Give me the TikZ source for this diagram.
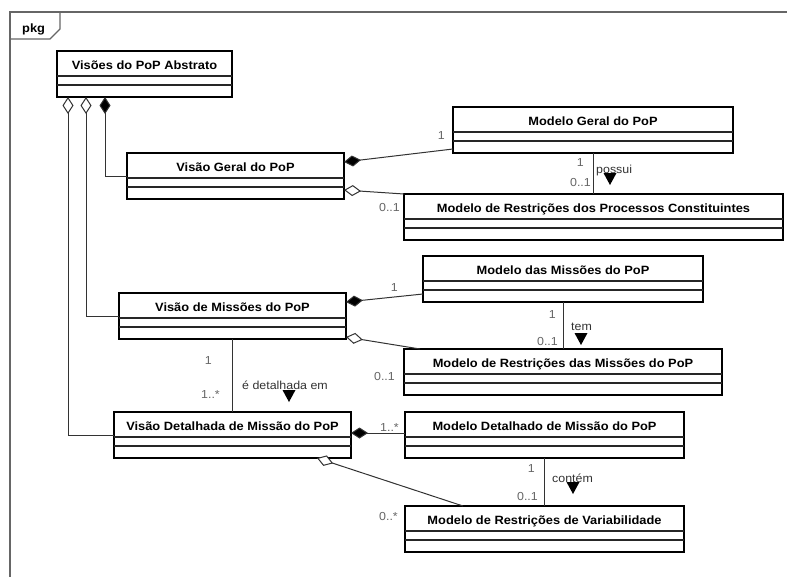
\documentclass[tikz,border=0pt]{standalone}
\usepackage{fontspec}
\setmainfont{Liberation Sans}
\newfontfamily\umlfont[FakeStretch=1.07]{Liberation Sans}
\usetikzlibrary{arrows.meta,calc}

\tikzset{
  clsbox/.style={draw=black, line width=2.4pt, fill=white, inner sep=0pt, outer sep=0pt,
                 minimum height=46pt, anchor=north west},
  sepline/.style={draw=black!85, line width=1.1pt},
  clsname/.style={font=\umlfont\bfseries\fontsize{12}{14}\selectfont, inner sep=0pt, anchor=base},
  mult/.style={font=\umlfont\fontsize{11.6}{13}\selectfont, text=black!60, inner sep=0pt, anchor=base east},
  assoclbl/.style={font=\umlfont\fontsize{11.6}{13}\selectfont, text=black!80, inner sep=0pt, anchor=base west},
  conn/.style={draw=black!80, line width=1pt},
  comp/.style={conn, {Diamond[fill=black, length=17pt, width=11pt]}-},
  aggr/.style={conn, {Diamond[open, fill=white, length=17pt, width=11pt]}-},
  framec/.style={draw=black!60, line width=1.3pt},
}

% class box with name compartment and two empty compartments
\newcommand\umlclass[5]{%
  \node[clsbox, minimum width=#4] (#1) at (#2,#3) {};
  \node[clsname] (#1-name) at ($(#1.north)+(0,18.5)$) {#5};
  \draw[sepline] ($(#1.north west)+(0,25)$) -- ($(#1.north east)+(0,25)$);
  \draw[sepline] ($(#1.north west)+(0,34)$) -- ($(#1.north east)+(0,34)$);
}

% reading-direction triangle of an association name
\newcommand\readdir[3]{%
  \coordinate (#1) at (#2,#3);
  \fill[black] ($(#1)+(-6.5,0)$) -- ($(#1)+(6.5,0)$) -- ($(#1)+(0,12)$) -- cycle;
}

\begin{document}
\begin{tikzpicture}[x=1pt, y=-1pt]
\useasboundingbox (0,0) rectangle (787,576);
\clip (0,0) rectangle (787,576);
\fill[white] (0,0) rectangle (787,576);

% package frame
\draw[framec] (10,620) -- (10,12) -- (820,12);
\draw[framec] (10,39) -- (50,39) -- (60,29) -- (60,12);
\node[font=\umlfont\bfseries\fontsize{12}{14}\selectfont, inner sep=0pt, anchor=base west] (pkg) at (22,32) {pkg};

% classes
\umlclass{ab}{57}{51}{175}{Visões do PoP Abstrato}
\umlclass{vg}{127}{153}{217}{Visão Geral do PoP}
\umlclass{mg}{453}{107}{280}{Modelo Geral do PoP}
\umlclass{mr}{404}{194}{379}{Modelo de Restrições dos Processos Constituintes}
\umlclass{mm}{423}{256}{280}{Modelo das Missões do PoP}
\umlclass{vm}{119}{293}{227}{Visão de Missões do PoP}
\umlclass{mrm}{404}{349}{318}{Modelo de Restrições das Missões do PoP}
\umlclass{vd}{114}{412}{237}{Visão Detalhada de Missão do PoP}
\umlclass{md}{405}{412}{279}{Modelo Detalhado de Missão do PoP}
\umlclass{mrv}{405}{506}{279}{Modelo de Restrições de Variabilidade}

% views owned by the abstract view
\draw[comp] ($(ab.south west)+(48,0)$) |- (vg.west);
\draw[aggr] ($(ab.south west)+(29,0)$) |- (vm.west);
\draw[aggr] ($(ab.south west)+(11,0)$) |- (vd.west);

% general view
\draw[comp] ($(vg.north east)+(0,9)$) -- ($(mg.south west)+(0,-4)$);
\draw[aggr] ($(vg.north east)+(0,37)$) -- (mr.north west);
\coordinate (pmg) at ($(mg.south west)+(140,0)$);
\draw[conn] (pmg) -- (pmg |- mr.north);
\node[mult] (m1) at (445,139) {1};
\node[mult] (m2) at (400,211) {0..1};
\node[mult] (m3) at (584,166) {1};
\node[mult] (m4) at (591,186) {0..1};
\node[assoclbl] (a1) at (596,173) {possui};
\readdir{t1}{610}{173}

% missions view
\draw[comp] ($(vm.north east)+(0,9)$) -- ($(mm.south west)+(0,-8)$);
\draw[aggr] ($(vm.north east)+(0,44)$) -- ($(mrm.north west)+(16,0)$);
\coordinate (pmm) at ($(mm.south west)+(140,0)$);
\draw[conn] (pmm) -- (pmm |- mrm.north);
\node[mult] (m5) at (398,291) {1};
\node[mult] (m6) at (395,380) {0..1};
\node[mult] (m7) at (556,318) {1};
\node[mult] (m8) at (558,345) {0..1};
\node[assoclbl] (a2) at (571,330) {tem};
\readdir{t2}{581}{333}

% missions view detailed by the detailed mission view
\coordinate (pvm) at ($(vm.south west)+(113,0)$);
\draw[conn] (pvm) -- (pvm |- vd.north);
\node[mult] (m9) at (212,364) {1};
\node[mult] (m10) at (220,398) {1..*};
\node[assoclbl] (a3) at (242,389) {é detalhada em};
\readdir{t3}{289}{390}

% detailed mission view
\draw[comp] ($(vd.north east)+(0,21)$) -- ($(md.north west)+(0,21)$);
\draw[aggr] ($(vd.south west)+(203,0)$) -- ($(mrv.north west)+(58,0)$);
\coordinate (pmd) at ($(md.south west)+(139,0)$);
\draw[conn] (pmd) -- (pmd |- mrv.north);
\node[mult] (m11) at (399,431) {1..*};
\node[mult] (m12) at (398,520) {0..*};
\node[mult] (m13) at (535,472) {1};
\node[mult] (m14) at (538,500) {0..1};
\node[assoclbl] (a4) at (552,482) {contém};
\readdir{t4}{573}{482}
\end{tikzpicture}
\end{document}
